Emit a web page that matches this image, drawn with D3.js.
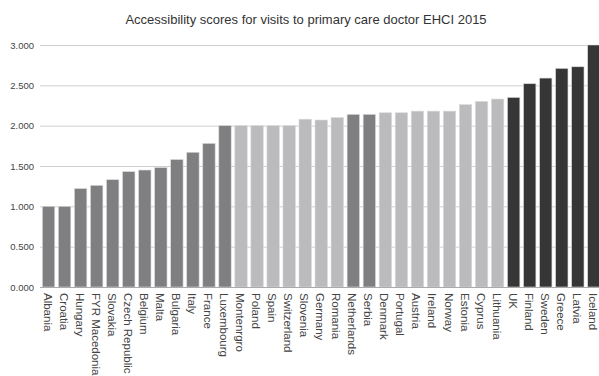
<!DOCTYPE html>
<html>
<head>
<meta charset="utf-8">
<script src="https://cdn.jsdelivr.net/npm/d3@7"></script>
<style>
  html, body { margin: 0; padding: 0; background: #fff; }
  svg { display: block; font-family: "Liberation Sans", Arial, sans-serif; }
</style>
</head>
<body>
<svg id="chart" width="599" height="376"></svg>
<script>
// Accessibility scores per country, EHCI 2015
const countries = ["Albania","Croatia","Hungary","FYR Macedonia","Slovakia","Czech Republic","Belgium","Malta","Bulgaria","Italy","France","Luxembourg","Montenrgro","Poland","Spain","Switzerland","Slovenia","Germany","Romania","Netherlands","Serbia","Denmark","Portugal","Austria","Ireland","Norway","Estonia","Cyprus","Lithuania","UK","Finland","Sweden","Greece","Latvia","Iceland"];
const scores = [1.00,1.00,1.22,1.26,1.33,1.43,1.45,1.48,1.58,1.67,1.78,2.00,2.00,2.00,2.00,2.00,2.08,2.07,2.10,2.14,2.14,2.16,2.16,2.18,2.18,2.18,2.26,2.30,2.33,2.35,2.52,2.59,2.71,2.73,3.00];
// Shade group per country: 0 = mid grey, 1 = light grey, 2 = dark
const groups = [0,0,0,0,0,0,0,0,0,0,0,0,1,1,1,1,1,1,1,0,0,1,1,1,1,1,1,1,1,2,2,2,2,2,2];
const yTicks = [0, 0.5, 1, 1.5, 2, 2.5, 3];
const title = "Accessibility scores for visits to primary care doctor EHCI 2015";

const shades = ["#7f7f81", "#bbbbbe", "#363636"];

const svg = d3.select("#chart");
const plotLeft = 40, plotTop = 45, plotBottom = 287;
const step = 16.07;
const plotRight = plotLeft + step * countries.length;

const x = d3.scaleBand().domain(countries).range([plotLeft, plotRight]).paddingInner(0.23).paddingOuter(0.15);
const y = d3.scaleLinear().domain([0, 3]).range([plotBottom, plotTop]);

svg.append("text")
  .attr("x", 306).attr("y", 24)
  .attr("text-anchor", "middle")
  .attr("font-size", 13)
  .attr("fill", "#333")
  .text(title);

// horizontal grid + tick labels
const yAxis = svg.append("g")
  .attr("transform", `translate(${plotLeft},0)`)
  .call(d3.axisLeft(y).tickValues(yTicks).tickFormat(d3.format(".3f")).tickSize(-(599 - plotLeft)).tickPadding(6));
yAxis.select(".domain").remove();
yAxis.selectAll(".tick line").attr("stroke", "#cfcfcf").attr("stroke-width", 1);
yAxis.selectAll(".tick text").attr("fill", "#444").attr("font-size", 9.5).attr("font-family", "Liberation Sans, Arial, sans-serif");

svg.append("g").selectAll("rect")
  .data(countries)
  .join("rect")
  .attr("x", d => x(d))
  .attr("width", x.bandwidth())
  .attr("y", (d, i) => y(scores[i]))
  .attr("height", (d, i) => y(0) - y(scores[i]))
  .attr("fill", (d, i) => shades[groups[i]])
  .attr("stroke", "#d8d8d8")
  .attr("stroke-width", 0.6);

// baseline
svg.append("line")
  .attr("x1", plotLeft).attr("x2", 599)
  .attr("y1", plotBottom + 0.5).attr("y2", plotBottom + 0.5)
  .attr("stroke", "#aaa");

// rotated category labels
svg.append("g").selectAll("text")
  .data(countries)
  .join("text")
  .attr("transform", d => `translate(${x(d) + x.bandwidth() / 2 - 5},${plotBottom + 6}) rotate(90)`)
  .attr("font-size", 11.5)
  .attr("fill", "#444")
  .attr("text-anchor", "start")
  .text(d => d);
</script>
</body>
</html>
